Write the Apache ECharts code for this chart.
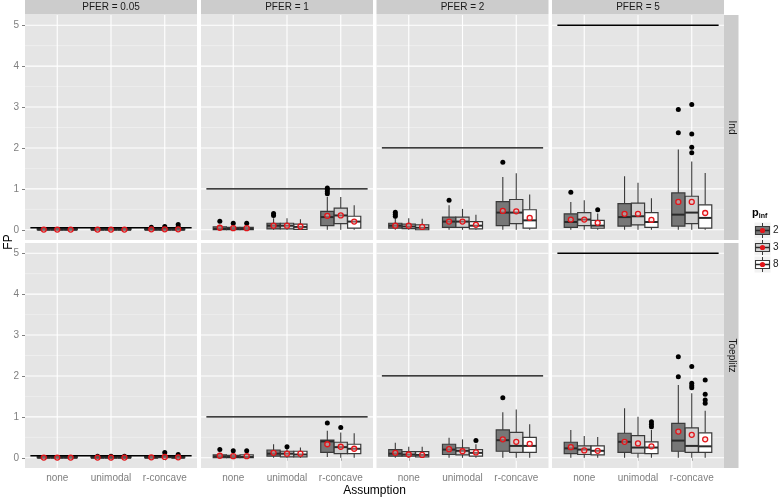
<!DOCTYPE html>
<html><head><meta charset="utf-8">
<script src="https://cdn.jsdelivr.net/npm/echarts@6/dist/echarts.min.js"></script>
<style>html,body{margin:0;padding:0;background:#fff}#c{width:779px;height:498px}</style>
</head><body><div id="c"></div>
<script>
// ---------- data ----------
const assumptions = ['none', 'unimodal', 'r-concave'];
const pferLevels = [0.05, 1, 2, 5];
const pferLabels = ['PFER = 0.05', 'PFER = 1', 'PFER = 2', 'PFER = 5'];
const covTypes = ['Ind', 'Toeplitz'];
const pinfLevels = ['2', '3', '8'];
const yTicks = [0, 1, 2, 3, 4, 5];
const yMinor = [0.5, 1.5, 2.5, 3.5, 4.5];
// rows ordered none(p2,p3,p8), unimodal(p2,p3,p8), r-concave(p2,p3,p8)
// [lower whisker, q1, median, q3, upper whisker, mean, outliers]
const indPfer005 = [
  [0,0,0,0.03,0.03,0.005,[]],[0,0,0,0.03,0.03,0.005,[]],[0,0,0,0.03,0.03,0.005,[]],
  [0,0,0,0.03,0.03,0.005,[]],[0,0,0,0.03,0.03,0.005,[]],[0,0,0,0.03,0.03,0.005,[]],
  [0,0,0,0.03,0.04,0.01,[0.06]],[0,0,0,0.03,0.04,0.01,[0.08]],[0,0,0,0.03,0.05,0.01,[0.07,0.13]]
];
const indPfer1 = [
  [0,0,0.02,0.07,0.12,0.05,[0.21]],[0,0,0.02,0.06,0.1,0.04,[0.16]],[0,0,0.02,0.06,0.1,0.04,[0.16]],
  [0,0.02,0.1,0.16,0.28,0.1,[0.35,0.4]],[0,0.02,0.1,0.16,0.28,0.1,[]],[0,0.01,0.07,0.14,0.26,0.08,[]],
  [0,0.1,0.31,0.45,0.8,0.34,[0.88,0.93,0.98,1.02]],[0,0.15,0.35,0.53,0.8,0.35,[]],[0,0.04,0.2,0.33,0.6,0.2,[]]
];
const indPfer2 = [
  [0,0.04,0.1,0.16,0.28,0.1,[0.33,0.38,0.43]],[0,0.03,0.08,0.14,0.28,0.1,[]],[0,0,0.05,0.12,0.27,0.07,[]],
  [0,0.06,0.2,0.31,0.6,0.2,[0.72]],[0,0.06,0.2,0.31,0.51,0.2,[]],[0,0.02,0.1,0.2,0.37,0.12,[]],
  [0,0.1,0.42,0.69,1.29,0.46,[1.65]],[0,0.15,0.42,0.74,1.38,0.45,[]],[0,0.04,0.23,0.49,0.86,0.29,[]]
];
const indPfer5 = [
  [0,0.06,0.19,0.39,0.68,0.25,[0.92]],[0,0.1,0.25,0.42,0.72,0.25,[]],[0,0.04,0.1,0.23,0.4,0.17,[0.49]],
  [0,0.09,0.31,0.64,1.31,0.39,[]],[0,0.12,0.33,0.65,1.15,0.39,[]],[0,0.06,0.19,0.42,0.77,0.24,[]],
  [0,0.09,0.37,0.9,1.96,0.68,[2.37,2.94]],[0,0.15,0.42,0.82,1.67,0.68,[1.88,2.02,2.34,3.06]],[0,0.04,0.29,0.61,1.39,0.41,[]]
];
const toePfer005 = [
  [0,0,0,0.03,0.03,0.005,[]],[0,0,0,0.03,0.03,0.005,[]],[0,0,0,0.03,0.03,0.005,[]],
  [0,0,0,0.03,0.03,0.005,[0.04]],[0,0,0,0.03,0.03,0.005,[0.04]],[0,0,0,0.03,0.03,0.005,[0.04]],
  [0,0,0,0.03,0.06,0.01,[]],[0,0,0.02,0.04,0.06,0.02,[0.13]],[0,0,0,0.03,0.05,0.01,[0.08]]
];
const toePfer1 = [
  [0,0,0.03,0.07,0.12,0.05,[0.2]],[0,0,0.02,0.06,0.1,0.04,[0.17]],[0,0,0.02,0.07,0.1,0.04,[0.17]],
  [0,0.04,0.1,0.19,0.33,0.12,[]],[0,0.02,0.1,0.16,0.22,0.1,[0.27]],[0,0.02,0.08,0.16,0.25,0.1,[]],
  [0.02,0.13,0.4,0.43,0.66,0.33,[0.85]],[0,0.1,0.26,0.38,0.62,0.27,[0.74]],[0,0.1,0.22,0.33,0.6,0.22,[]]
];
const toePfer2 = [
  [0,0.04,0.1,0.2,0.37,0.12,[]],[0,0.04,0.08,0.15,0.27,0.08,[]],[0,0.02,0.07,0.15,0.27,0.07,[]],
  [0,0.08,0.2,0.33,0.49,0.21,[]],[0,0.07,0.17,0.24,0.45,0.16,[]],[0,0.04,0.12,0.2,0.33,0.13,[0.42]],
  [0,0.16,0.43,0.68,1.11,0.45,[1.47]],[0,0.13,0.29,0.62,1.18,0.39,[]],[0,0.13,0.29,0.5,0.82,0.34,[]]
];
const toePfer5 = [
  [0,0.1,0.23,0.38,0.68,0.26,[]],[0,0.08,0.2,0.29,0.53,0.18,[]],[0,0.07,0.17,0.29,0.51,0.17,[]],
  [0,0.13,0.39,0.6,1.21,0.39,[]],[0,0.11,0.25,0.54,1.0,0.35,[]],[0,0.1,0.25,0.39,0.68,0.28,[0.76,0.82,0.88]],
  [0,0.16,0.42,0.84,1.78,0.64,[1.98,2.47]],[0,0.13,0.29,0.73,1.58,0.56,[1.71,1.76,1.82,2.23]],[0,0.13,0.28,0.61,1.15,0.45,[1.33,1.41,1.55,1.9]]
];
const facetData = [
  [indPfer005, indPfer1, indPfer2, indPfer5],
  [toePfer005, toePfer1, toePfer2, toePfer5]
];

// ---------- style / layout ----------
const FONT = '"Liberation Sans", Arial, Helvetica, sans-serif';
const fills = ['#777777', '#d0d0d0', '#ffffff'];
const strokeC = '#3a3a3a';
const colLeft = [25, 201, 376.5, 552];
const rowTop = [15, 243];
const panelW = 172, panelH = 225;
const dodge = 0.25;

const grids = [], xAxes = [], yAxes = [], series = [];
for (let r = 0; r < 2; r++) {
  for (let c = 0; c < 4; c++) {
    const g = r * 4 + c;
    grids.push({left: colLeft[c], top: rowTop[r], width: panelW, height: panelH,
      show: true, backgroundColor: '#e5e5e5', borderWidth: 0, containLabel: false});
    xAxes.push({type: 'value', gridIndex: g, min: 0.4, max: 3.6,
      axisLine: {show: false}, splitLine: {show: false},
      axisTick: {show: r === 1, customValues: [1, 2, 3], length: 3, lineStyle: {color: '#7f7f7f', width: 1}},
      axisLabel: {show: r === 1, customValues: [1, 2, 3], margin: 5, color: '#7f7f7f', fontSize: 10, fontFamily: FONT,
        formatter: v => assumptions[Math.round(v) - 1] || ''}});
    yAxes.push({type: 'value', gridIndex: g, min: -0.25, max: 5.25,
      axisLine: {show: false}, splitLine: {show: false},
      axisTick: {show: c === 0, customValues: yTicks, length: 3, lineStyle: {color: '#7f7f7f', width: 1}},
      axisLabel: {show: c === 0, customValues: yTicks, margin: 6, color: '#7f7f7f', fontSize: 10, fontFamily: FONT}});

    // gridlines
    const gl = [];
    yMinor.forEach(v => gl.push([1, v]));
    yTicks.forEach(v => gl.push([0, v]));
    [1, 2, 3].forEach(v => gl.push([2, v]));
    series.push({type: 'custom', xAxisIndex: g, yAxisIndex: g, z: 1, silent: true, data: gl,
      renderItem(params, api) {
        const cs = params.coordSys;
        const t = api.value(0), v = api.value(1);
        if (t === 2) {
          const p = api.coord([v, 0]);
          return {type: 'line', shape: {x1: p[0], y1: cs.y, x2: p[0], y2: cs.y + cs.height},
            style: {stroke: '#ffffff', lineWidth: 1.1}};
        }
        const p = api.coord([1, v]);
        return {type: 'line', shape: {x1: cs.x, y1: p[1], x2: cs.x + cs.width, y2: p[1]},
          style: {stroke: t === 0 ? '#ffffff' : '#f3f3f3', lineWidth: t === 0 ? 1.1 : 0.6}};
      }});

    const fd = facetData[r][c];
    for (let k = 0; k < 3; k++) {
      const boxes = [], means = [], outs = [];
      for (let a = 0; a < 3; a++) {
        const d = fd[a * 3 + k];
        const x = a + 1 + (k - 1) * dodge;
        boxes.push([x, d[0], d[1], d[2], d[3], d[4]]);
        means.push([x, d[5]]);
        d[6].forEach(o => outs.push([x, o]));
      }
      series.push({type: 'custom', name: 'p' + pinfLevels[k], xAxisIndex: g, yAxisIndex: g, z: 2, silent: true,
        data: boxes,
        renderItem(params, api) {
          const x = api.value(0);
          const w = api.size([dodge, 0])[0] * 0.98;
          const pLo = api.coord([x, api.value(1)]), pQ1 = api.coord([x, api.value(2)]),
                pMed = api.coord([x, api.value(3)]), pQ3 = api.coord([x, api.value(4)]),
                pHi = api.coord([x, api.value(5)]);
          const px = pLo[0], h = w / 2;
          const st = {stroke: strokeC, lineWidth: 1.1};
          return {type: 'group', children: [
            {type: 'line', shape: {x1: px, y1: pHi[1], x2: px, y2: pQ3[1]}, style: st},
            {type: 'line', shape: {x1: px, y1: pQ1[1], x2: px, y2: pLo[1]}, style: st},
            {type: 'rect', shape: {x: px - h, y: pQ3[1], width: w, height: Math.max(pQ1[1] - pQ3[1], 0.5)},
              style: {fill: fills[k], stroke: strokeC, lineWidth: 1.2}},
            {type: 'line', shape: {x1: px - h, y1: pMed[1], x2: px + h, y2: pMed[1]},
              style: {stroke: '#2a2a2a', lineWidth: 2}}
          ]};
        }});
      series.push({type: 'scatter', xAxisIndex: g, yAxisIndex: g, z: 5, silent: true, data: outs,
        symbol: 'circle', symbolSize: 5, itemStyle: {color: '#000000', opacity: 1}});
      series.push({type: 'scatter', xAxisIndex: g, yAxisIndex: g, z: 6, silent: true, data: means,
        symbol: 'circle', symbolSize: 5,
        itemStyle: {color: 'rgba(255,200,200,0.4)', borderColor: '#e3151a', borderWidth: 1.3, opacity: 1}});
    }
    // PFER reference line
    series.push({type: 'custom', xAxisIndex: g, yAxisIndex: g, z: 4, silent: true,
      data: [[0.5, pferLevels[c], 3.5]],
      renderItem(params, api) {
        const a = api.coord([api.value(0), api.value(1)]);
        const b = api.coord([api.value(2), api.value(1)]);
        return {type: 'line', shape: {x1: a[0], y1: a[1], x2: b[0], y2: b[1]},
          style: {stroke: '#000000', lineWidth: 1.3}};
      }});
  }
}

// ---------- strips, titles, legend ----------
const graphic = [];
for (let c = 0; c < 4; c++) {
  graphic.push({type: 'rect', left: colLeft[c], top: 0, shape: {width: panelW, height: 14.5},
    style: {fill: '#cccccc'}, silent: true});
  graphic.push({type: 'text', x: colLeft[c] + panelW / 2, y: 7.5,
    style: {text: pferLabels[c], fill: '#1a1a1a', font: '10px ' + FONT, align: 'center', verticalAlign: 'middle'}, silent: true});
}
for (let r = 0; r < 2; r++) {
  graphic.push({type: 'rect', left: 724, top: rowTop[r], shape: {width: 14.5, height: panelH},
    style: {fill: '#cccccc'}, silent: true});
  graphic.push({type: 'text', x: 731.5, y: rowTop[r] + panelH / 2, rotation: -Math.PI / 2,
    style: {text: covTypes[r], fill: '#1a1a1a', font: '10px ' + FONT, align: 'center', verticalAlign: 'middle'}, silent: true});
}
graphic.push({type: 'text', x: 9, y: 242, rotation: Math.PI / 2,
  style: {text: 'FP', fill: '#000', font: '12px ' + FONT, align: 'center', verticalAlign: 'middle'}, silent: true});
graphic.push({type: 'text', x: 374.5, y: 490.5,
  style: {text: 'Assumption', fill: '#000', font: '12px ' + FONT, align: 'center', verticalAlign: 'middle'}, silent: true});
// legend
graphic.push({type: 'text', x: 752, y: 213,
  style: {rich: {a: {fontSize: 11, fontWeight: 'bold', fontFamily: FONT, fill: '#000'},
                 b: {fontSize: 7, fontWeight: 'bold', fontFamily: FONT, fill: '#000', padding: [6, 0, 0, 0]}},
          text: '{a|p}{b|inf}', verticalAlign: 'middle'}, silent: true});
for (let k = 0; k < 3; k++) {
  const y0 = 222 + 17 * k;
  graphic.push({type: 'group', x: 754, y: y0, silent: true, children: [
    {type: 'rect', shape: {x: 0, y: 0, width: 17, height: 17}, style: {fill: '#f2f2f2', stroke: '#ffffff', lineWidth: 1}},
    {type: 'line', shape: {x1: 8.5, y1: 1, x2: 8.5, y2: 16}, style: {stroke: strokeC, lineWidth: 1}},
    {type: 'rect', shape: {x: 1.5, y: 4.5, width: 14, height: 8}, style: {fill: fills[k], stroke: strokeC, lineWidth: 1.1}},
    {type: 'line', shape: {x1: 1.5, y1: 8.5, x2: 15.5, y2: 8.5}, style: {stroke: '#2a2a2a', lineWidth: 1.5}},
    {type: 'circle', shape: {cx: 8.5, cy: 8.5, r: 2.6}, style: {fill: '#e3151a'}}
  ]});
  graphic.push({type: 'text', x: 773, y: y0 + 8.5,
    style: {text: pinfLevels[k], fill: '#1a1a1a', font: '10px ' + FONT, verticalAlign: 'middle'}, silent: true});
}

const chart = echarts.init(document.getElementById('c'), null, {renderer: 'canvas'});
chart.setOption({
  animation: false,
  backgroundColor: '#ffffff',
  grid: grids, xAxis: xAxes, yAxis: yAxes, series: series, graphic: graphic
});
</script></body></html>
